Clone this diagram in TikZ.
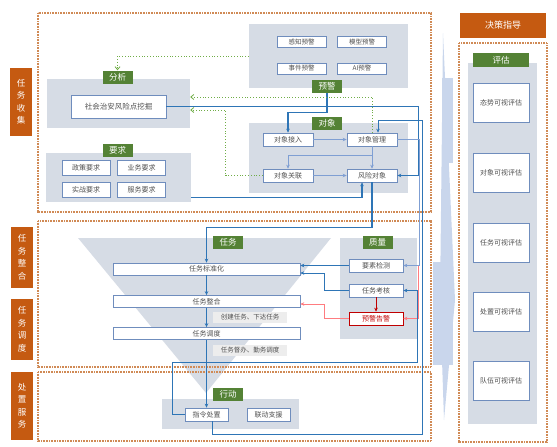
\documentclass[tikz,border=0pt]{standalone}
\usepackage{fontspec}
\setmainfont{Noto Sans CJK SC}
\usetikzlibrary{arrows.meta}
\definecolor{orgbox}{HTML}{C55A11}
\definecolor{grnfill}{HTML}{548235}
\definecolor{panelg}{HTML}{D6DCE5}
\definecolor{boxln}{HTML}{6F8DBD}
\definecolor{txtg}{HTML}{505050}
\definecolor{dotorg}{HTML}{D08A55}
\definecolor{lnblue}{HTML}{2E75B6}
\definecolor{lnlight}{HTML}{7F9FD3}
\definecolor{lngrn}{HTML}{70AD47}
\definecolor{lnpink}{HTML}{FF7C80}
\definecolor{alarm}{HTML}{C00000}
\definecolor{arrbg}{HTML}{C9D6EC}
\definecolor{notebg}{HTML}{EDEDED}
\begin{document}
\begin{tikzpicture}[x=1pt, y=-1pt, >={Stealth[length=4pt,width=3.5pt]},
    frame/.style={draw=dotorg, line width=1.6pt, dash pattern=on 0.8pt off 0.8pt},
    orgtag/.style={fill=orgbox, text=white, inner sep=0pt, align=center},
    greentag/.style={fill=grnfill, text=white, inner sep=0pt, minimum width=30, minimum height=13, font=\fontsize{8.5}{9}\selectfont},
    panel/.style={fill=panelg, inner sep=0pt},
    wbox/.style={draw=boxln, line width=0.6pt, fill=white, text=txtg, inner sep=0pt, minimum height=13, font=\fontsize{7}{8}\selectfont},
    redbox/.style={wbox, draw=alarm, text=alarm},
    evbox/.style={wbox, minimum width=56, minimum height=39},
    note/.style={fill=notebg, text=txtg, inner sep=0pt, minimum width=74, minimum height=11, font=\fontsize{6.5}{7}\selectfont},
    bline/.style={draw=lnblue, line width=1.4pt, ->},
    tline/.style={draw=lnblue, line width=0.6pt, ->},
    lline/.style={draw=lnlight, line width=0.7pt, ->},
    pline/.style={draw=lnpink, line width=0.7pt, ->},
    gline/.style={draw=lngrn, line width=0.8pt, dotted, -{Straight Barb[length=3pt,width=5pt]}}]
\useasboundingbox (0,0) rectangle (557,447);

% background arrow and funnel
\fill[arrbg] (443,33) -- (455,300) -- (444,420) -- (440,300) -- cycle;
\fill[arrbg] (442,78) rectangle (453,163);
\fill[arrbg] (433,262) rectangle (453,365);
\fill[panelg] (78,238) -- (331,238) -- (206,393) -- cycle;

% frames
\draw[frame] (38,13) rectangle (431,212);
\draw[frame] (38,221) rectangle (431,367);
\draw[frame] (38,372) rectangle (431,441);
\draw[frame] (459,43) rectangle (547,442);

% left tags
\node[orgtag, minimum width=22, minimum height=68, font=\fontsize{8.5}{12.5}\selectfont] (tagsj) at (21,102) {任\\务\\收\\集};
\node[orgtag, minimum width=22, minimum height=61, font=\fontsize{8.5}{12.5}\selectfont] (tagzh) at (22,257.5) {任\\务\\整\\合};
\node[orgtag, minimum width=22, minimum height=61, font=\fontsize{8.5}{12.5}\selectfont] (tagdd) at (22,329.5) {任\\务\\调\\度};
\node[orgtag, minimum width=22, minimum height=68, font=\fontsize{8.5}{12.5}\selectfont] (tagfw) at (22,406) {处\\置\\服\\务};

% yujing
\node[panel, minimum width=159, minimum height=64] (yjp) at (328.5,56) {};
\node[wbox, minimum width=49, minimum height=11, font=\fontsize{6.5}{7}\selectfont] (gzyj) at (301.5,42) {感知预警};
\node[wbox, minimum width=49, minimum height=11, font=\fontsize{6.5}{7}\selectfont] (mxyj) at (362,42) {模型预警};
\node[wbox, minimum width=49, minimum height=11, font=\fontsize{6.5}{7}\selectfont] (sjyj) at (301.5,68.5) {事件预警};
\node[wbox, minimum width=49, minimum height=11, font=\fontsize{6.5}{7}\selectfont] (aiyj) at (362,68.5) {AI预警};
\node[greentag] (yjtag) at (327,86.5) {预警};

% fenxi
\node[panel, minimum width=143, minimum height=49] (fxp) at (118.5,103.5) {};
\node[greentag] (fxtag) at (117.5,77) {分析};
\node[wbox, minimum width=95, minimum height=23, font=\fontsize{7.5}{8}\selectfont] (wj) at (118.5,106.5) {社会治安风险点挖掘};

% yaoqiu
\node[panel, minimum width=145, minimum height=49] (yqp) at (118.5,177.5) {};
\node[greentag] (yqtag) at (117.5,150) {要求};
\node[wbox, minimum width=48, minimum height=15] (zcyq) at (86,167.5) {政策要求};
\node[wbox, minimum width=48, minimum height=15] (ywyq) at (141.5,167.5) {业务要求};
\node[wbox, minimum width=48, minimum height=15] (szyq) at (86,189.5) {实战要求};
\node[wbox, minimum width=48, minimum height=15] (fwyq) at (141.5,189.5) {服务要求};

% duixiang
\node[panel, minimum width=159, minimum height=70] (dxp) at (328.5,158) {};
\node[greentag] (dxtag) at (327,123) {对象};
\node[wbox, minimum width=50] (dxjr) at (288,139.5) {对象接入};
\node[wbox, minimum width=50] (dxgl) at (372,139.5) {对象管理};
\node[wbox, minimum width=50] (dxgx) at (288,175.5) {对象关联};
\node[wbox, minimum width=50] (fxdx) at (372,175.5) {风险对象};

% renwu
\node[greentag] (rwtag) at (228,242) {任务};
\node[wbox, minimum width=187, minimum height=12] (bzh) at (206.5,269) {任务标准化};
\node[wbox, minimum width=187, minimum height=12] (rwzh) at (206.5,301.5) {任务整合};
\node[wbox, minimum width=187, minimum height=12] (rwdd) at (206.5,333.5) {任务调度};
\node[note] (note1) at (250,317.5) {创建任务、下达任务};
\node[note] (note2) at (250,350) {任务督办、勤务调度};

% zhiliang
\node[panel, minimum width=77, minimum height=101] (zlp) at (378.5,288.5) {};
\node[greentag] (zltag) at (377.5,242) {质量};
\node[wbox, minimum width=54] (ysjc) at (376,265.5) {要素检测};
\node[wbox, minimum width=54] (rwkh) at (376,290.5) {任务考核};
\node[redbox, minimum width=54] (yjgj) at (376,318.5) {预警告警};

% xingdong
\node[panel, minimum width=137, minimum height=30] (xdp) at (230.5,414) {};
\node[greentag] (xdtag) at (228,394.5) {行动};
\node[wbox, minimum width=43] (zlcz) at (206.5,414.5) {指令处置};
\node[wbox, minimum width=43] (ldzy) at (268.5,414.5) {联动支援};

% right column
\node[orgtag, minimum width=86, minimum height=25, font=\fontsize{9}{10}\selectfont] (jczd) at (503,25.5) {决策指导};
\node[panel, minimum width=69, minimum height=361] (pgp) at (502.5,243.5) {};
\node[greentag, minimum width=56, minimum height=14] (pgtag) at (501,60) {评估};
\node[evbox] (ev1) at (501,103) {态势可视评估};
\node[evbox] (ev2) at (501,172.5) {对象可视评估};
\node[evbox] (ev3) at (501,242.5) {任务可视评估};
\node[evbox] (ev4) at (501,311.5) {处置可视评估};
\node[evbox] (ev5) at (501,381) {队伍可视评估};

% connectors
\draw[bline] (wj.east) -- ++(252,0) |- (fxdx.east);
\draw[bline] (yjtag.south) -- ++(0,19) -| (dxjr.north);
\draw[bline] ([yshift=5pt]yqp.south east) -| ([xshift=-10pt]fxdx.south);
\draw[bline] (fxdx.south) -- ++(0,45) -| (bzh.north);
\draw[bline] (bzh.south) -- (rwzh.north);
\draw[bline] (rwzh.south) -- (rwdd.north);
\draw[bline] (rwdd.south) -- (zlcz.north);

\draw[gline] (yjp.west) -| (fxtag.north);
\draw[gline] (dxgl.north) |- ([yshift=6.5pt]fxp.east);
\draw[gline] (dxgx.west) -- ++(-37,0) |- ([yshift=-6.5pt]fxp.east);

\draw[lline] (dxjr.east) -- (dxgl.west);
\draw[lline] (dxgl.south) -- (fxdx.north);
\draw[lline] ([yshift=-9pt]dxgl.south) -| (dxgx.north);
\draw[lline] (dxgx.east) -- (fxdx.west);
\draw[lline] (dxgl.east) -| ([xshift=16pt]ysjc.east) -- (ysjc.east);
\draw[pline] ([xshift=15pt]ysjc.east) |- (yjgj.east);

\draw[tline] ([xshift=6pt]zlcz.south) -- ++(0,13) -| ([xshift=50pt,yshift=12pt]dxgl.north) -- ([xshift=6pt,yshift=12pt]dxgl.north) -- ([xshift=6pt]dxgl.north);
\draw[tline] (zlcz.west) -| (172,362) -| ([xshift=14pt]rwkh.east) -- (rwkh.east);

\draw[tline] (ysjc.west) -- (ysjc.west -| bzh.east);
\draw[tline] (rwkh.west) -- ++(-24,0) |- ([yshift=-4pt]bzh.east);
\draw[pline, draw=alarm] (rwkh.south) -- (yjgj.north);
\draw[pline] (yjgj.west) -- ++(-24,0) |- ([yshift=-2.5pt]rwzh.east);

\end{tikzpicture}
\end{document}
